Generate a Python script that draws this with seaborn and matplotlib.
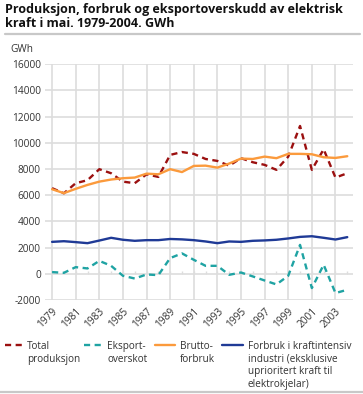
import matplotlib
matplotlib.use("Agg")
import matplotlib.pyplot as plt
import seaborn as sns
import pandas as pd
import numpy as np
from matplotlib.lines import Line2D

years = list(range(1979, 2005))
total_produksjon = [6540, 6150, 6920, 7150, 7990, 7680, 7040, 6920, 7600, 7400,
                    9080, 9300, 9160, 8770, 8620, 8260, 8830, 8520, 8320, 7940,
                    8950, 11290, 7940, 9510, 7350, 7680]
eksportoverskot = [130, 76, 510, 410, 990, 610, -150, -360, -50, -100,
                   1200, 1560, 1070, 610, 610, -76, 100, -200, -510, -810,
                   -150, 2210, -1090, 690, -1470, -1220]
bruttoforbruk = [6460, 6160, 6490, 6790, 7040, 7200, 7300, 7350, 7650, 7600,
                 7990, 7770, 8240, 8260, 8110, 8420, 8800, 8770, 8950, 8830,
                 9160, 9160, 9130, 8900, 8850, 8980]
industri = [2440, 2490, 2420, 2340, 2540, 2750, 2600, 2520, 2570, 2570,
            2660, 2630, 2570, 2470, 2340, 2470, 2440, 2520, 2550, 2600,
            2700, 2820, 2870, 2750, 2620, 2800]

series_labels = ["Total\nproduksjon", "Eksport-\noverskot", "Brutto-\nforbruk",
                 "Forbruk i kraftintensiv\nindustri (eksklusive\nuprioritert kraft til\nelektrokjelar)"]
colors = ["#9b1010", "#1fa3a3", "#fb9a3c", "#1f3a96"]
styles = [(0, (2.6, 1.9)), (0, (2.6, 1.9)), "-", "-"]

tick_years = list(range(1979, 2004, 2))
y_ticks = list(range(-2000, 16001, 2000))

title = "Produksjon, forbruk og eksportoverskudd av elektrisk\nkraft i mai. 1979-2004. GWh"

sns.set_theme(style="white")
plt.rcParams['font.family'] = ['Open Sans', 'DejaVu Sans']

df = pd.DataFrame({"year": years,
                   series_labels[0]: total_produksjon,
                   series_labels[1]: eksportoverskot,
                   series_labels[2]: bruttoforbruk,
                   series_labels[3]: industri})
long = df.melt(id_vars="year", var_name="serie", value_name="GWh")

W, H = 363, 394
fig = plt.figure(figsize=(W/100, H/100), dpi=100)
ax = fig.add_axes([45/W, 1-300/H, (352.7-45)/W, (300-64.3)/H])

LW = 1.7
for lab, col, ls in zip(series_labels, colors, styles):
    sub = long[long["serie"] == lab]
    sns.lineplot(data=sub, x="year", y="GWh", ax=ax, color=col, linewidth=LW,
                 linestyle=ls, legend=False)

ax.set_xlim(1978.4, 2004.46)
ax.set_ylim(-2000, 16000)
ax.set_yticks(y_ticks)
ax.set_yticklabels([str(v) for v in y_ticks], fontsize=7.3, color="#333333")
ax.set_xticks(tick_years)
ax.set_xticklabels([str(y) for y in tick_years], rotation=45, ha="right",
                   rotation_mode="anchor", fontsize=7.3, color="#333333")
ax.tick_params(axis="both", length=0, pad=3)
ax.tick_params(axis="x", pad=4)
ax.grid(True, color="#dddddd", linewidth=1.2)
ax.set_axisbelow(True)
for s in ax.spines.values():
    s.set_visible(False)
ax.set_xlabel("")
ax.set_ylabel("")
# small year ticks on the zero line
ax.vlines(years, 0, 240, color="#dddddd", linewidth=1.0, zorder=0.5)

fig.text(5/W, 1-3/H, title, ha="left", va="top", fontsize=9.0,
         fontweight="bold", color="#111111", linespacing=1.1)
fig.add_artist(Line2D([5/W, 360/W], [1-33.5/H, 1-33.5/H],
                      color="#c8c8c8", linewidth=1.6))
fig.text(10/W, 1-49/H, "GWh", ha="left", va="center", fontsize=7.3,
         color="#333333")

# legend (manual, handles aligned with first text line)
handle_x = [(5, 25), (84, 105), (155, 175), (222, 243)]
text_x = [27, 107, 180, 248]
leg_y = 345
for (x0, x1), tx, c, ls, lab in zip(handle_x, text_x, colors, styles, series_labels):
    fig.add_artist(Line2D([x0/W, x1/W], [1-leg_y/H, 1-leg_y/H], color=c,
                          linestyle=ls, linewidth=LW))
    fig.text(tx/W, 1-(leg_y-4)/H, lab, ha="left", va="top", fontsize=7.2,
             color="#333333", linespacing=1.2)

fig.add_artist(Line2D([0, 1], [1-392/H, 1-392/H],
                      color="#c8c8c8", linewidth=1.6))

fig.savefig("out.png", dpi=100)
